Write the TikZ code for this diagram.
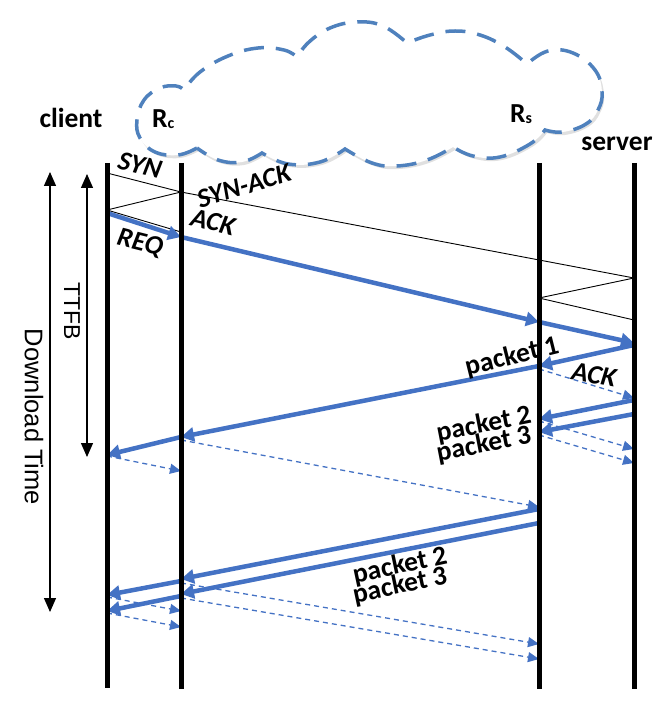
\documentclass[tikz,border=0pt]{standalone}
\usepackage{fontspec}
\setmainfont{Carlito}
\newfontfamily\arialfont{Liberation Sans}
\usetikzlibrary{arrows.meta}
\definecolor{arrblue}{HTML}{4472C4}
\definecolor{cloudblue}{HTML}{4F81BD}
\def\mycloud{plot[smooth,tension=0.7] coordinates{(197,148) (178,155) (155,152) (140,138) (137,120) (144,100) (160,88) (176,86) (184,90)}
 -- plot[smooth,tension=0.7] coordinates{(184,90) (200,72) (228,56) (258,48) (284,50) (297,57)}
 -- plot[smooth,tension=0.7] coordinates{(297,57) (309,42) (330,28) (357,22) (383,26) (407,43)}
 -- plot[smooth,tension=0.7] coordinates{(407,43) (430,35) (455,31) (480,35) (505,47) (527,64)}
 -- plot[smooth,tension=0.7] coordinates{(527,64) (548,51) (573,53) (595,70) (602,92) (598,110) (586,124) (563,132) (545,130)}
 -- plot[smooth,tension=0.7] coordinates{(545,130) (530,144) (500,157) (473,156) (453,147)}
 -- plot[smooth,tension=0.7] coordinates{(453,147) (427,160) (397,166) (372,163) (345,149)}
 -- plot[smooth,tension=0.7] coordinates{(345,149) (320,162) (288,164) (262,153)}
 -- plot[smooth,tension=0.7] coordinates{(262,153) (242,162) (218,160) (197,148)} -- cycle}
\begin{document}
\begin{tikzpicture}[x=1pt,y=-1pt,
  lifeline/.style={line width=5pt, black},
  hshake/.style={black, line width=0.9pt},
  data/.style={arrblue, line width=4.5pt, -{Triangle[length=13pt,width=14pt]}},
  ackd/.style={arrblue, line width=1.3pt, dash pattern=on 5pt off 4pt, -{Triangle[length=11pt,width=10pt]}},
  lbl/.style={font=\fontsize{27.5}{27.5}\selectfont\bfseries, inner sep=0pt},
  ilbl/.style={font=\fontsize{27}{27}\selectfont\bfseries\itshape, inner sep=0pt},
  tarrow/.style={black, line width=1.3pt, {Triangle[length=14pt,width=12pt]}-{Triangle[length=14pt,width=12pt]}},
  vlbl/.style={font=\arialfont\fontsize{25.5}{25.5}\selectfont, rotate=-90, inner sep=0pt},
  cloudline/.style={cloudblue, line width=3.5pt, dash pattern=on 20pt off 12pt, fill=white}]
\useasboundingbox (0,0) rectangle (670,703);

% cloud with shadow
\fill[black, opacity=0.12, xshift=2pt, yshift=-3pt] \mycloud;
\draw[cloudline] \mycloud;

% headings
\node[lbl, anchor=base] (client) at (71,128) {client};
\node[lbl, anchor=base west] (rc) at (152,128) {R\raisebox{-1pt}{\fontsize{16}{16}\selectfont c}};
\node[lbl, anchor=base west] (rs) at (510,123) {R\raisebox{-1pt}{\fontsize{16}{16}\selectfont s}};
\node[lbl, anchor=base] (server) at (617,151) {server};

% lifeline coordinates
\coordinate (cT) at (107,163); \coordinate (cB) at (107,688);
\coordinate (rT) at (181,163); \coordinate (rB) at (181,689);
\coordinate (qT) at (539,163); \coordinate (qB) at (539,689);
\coordinate (sT) at (634,163); \coordinate (sB) at (634,689);

% message end points
\coordinate (c173) at (107,173); \coordinate (r192) at (181,192);
\coordinate (c210) at (107,210); \coordinate (s278) at (634,278);
\coordinate (q298) at (539,298); \coordinate (s320) at (634,320);
\coordinate (r232) at (181,232);
\coordinate (c213) at (107,213); \coordinate (r237) at (181,237);
\coordinate (q322) at (539,322); \coordinate (s343) at (634,343);
\coordinate (s345) at (634,345); \coordinate (q366) at (539,366);
\coordinate (r437) at (181,437); \coordinate (c455) at (107,455);
\coordinate (c456) at (107,456); \coordinate (r471) at (181,471);
\coordinate (r440) at (181,440); \coordinate (q507) at (539,507);
\coordinate (q369) at (539,369); \coordinate (s398) at (634,398);
\coordinate (s400) at (634,400); \coordinate (q419) at (539,419);
\coordinate (s414) at (634,414); \coordinate (q432) at (539,432);
\coordinate (q421) at (539,421); \coordinate (s449) at (634,449);
\coordinate (q435) at (539,435); \coordinate (s463) at (634,463);
\coordinate (q509) at (539,509); \coordinate (r579) at (181,579);
\coordinate (q523) at (539,523); \coordinate (r594) at (181,594);
\coordinate (r581) at (181,581); \coordinate (c595) at (107,595);
\coordinate (r596) at (181,596); \coordinate (c611) at (107,611);
\coordinate (c597) at (107,597); \coordinate (r611) at (181,611);
\coordinate (c613) at (107,613); \coordinate (r627) at (181,627);
\coordinate (r583) at (181,583); \coordinate (q644) at (539,644);
\coordinate (r598) at (181,598); \coordinate (q659) at (539,659);

% handshake (thin)
\draw[hshake] (c173) -- (r192);
\draw[hshake] (r192) -- (c210);
\draw[hshake] (r192) -- (s278);
\draw[hshake] (s278) -- (q298);
\draw[hshake] (q298) -- (s320);
\draw[hshake] (c210) -- (r232);

% data (thick)
\draw[data] (c213) -- (r237);
\draw[data] (r237) -- (q322);
\draw[data] (q322) -- (s343);
\draw[data] (s345) -- (q366);
\draw[data] (q366) -- (r437);
\draw[data] (r437) -- (c455);
\draw[data] (s400) -- (q419);
\draw[data] (s414) -- (q432);
\draw[data] (q509) -- (r579);
\draw[data] (q523) -- (r594);
\draw[data] (r581) -- (c595);
\draw[data] (r596) -- (c611);

% acks (dashed)
\draw[ackd] (c456) -- (r471);
\draw[ackd] (r440) -- (q507);
\draw[ackd] (q369) -- (s398);
\draw[ackd] (q421) -- (s449);
\draw[ackd] (q435) -- (s463);
\draw[ackd] (c597) -- (r611);
\draw[ackd] (c613) -- (r627);
\draw[ackd] (r583) -- (q644);
\draw[ackd] (r598) -- (q659);

% lifelines
\draw[lifeline] (cT) -- (cB);
\draw[lifeline] (rT) -- (rB);
\draw[lifeline] (qT) -- (qB);
\draw[lifeline] (sT) -- (sB);

% message labels
\node[ilbl, rotate=-14] (syn) at (140,165) {SYN};
\node[ilbl, rotate=17] (synack) at (244,186) {SYN-ACK};
\node[ilbl, rotate=-14] (ack1) at (213,222) {ACK};
\node[ilbl, rotate=-14] (req) at (140,243) {REQ};
\node[lbl, rotate=14] (p1) at (512,357) {packet 1};
\node[ilbl, rotate=-10] (ack2) at (594,375) {ACK};
\node[lbl, rotate=11] (p2a) at (484,425) {packet 2};
\node[lbl, rotate=11] (p3a) at (484,445) {packet 3};
\node[lbl, rotate=12] (p2b) at (400,566) {packet 2};
\node[lbl, rotate=12] (p3b) at (400,586) {packet 3};

% time arrows
\coordinate (dtT) at (50,172); \coordinate (dtB) at (50,612);
\coordinate (ttT) at (87,174); \coordinate (ttB) at (87,457);
\draw[tarrow] (dtT) -- (dtB);
\draw[tarrow] (ttT) -- (ttB);
\node[vlbl] (dt) at (34,417) {Download Time};
\node[vlbl, font=\arialfont\fontsize{23}{23}\selectfont] (ttfb) at (72,311) {TTFB};
\end{tikzpicture}
\end{document}
